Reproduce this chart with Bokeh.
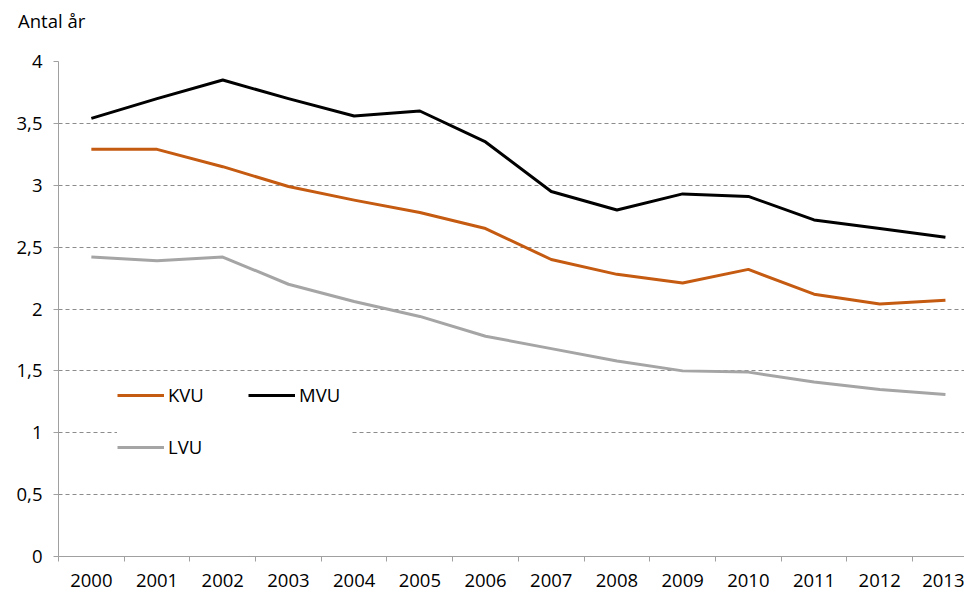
from bokeh.plotting import figure
from bokeh.models import FixedTicker, Legend, LegendItem, Range1d, Div
from bokeh.layouts import column
from bokeh.embed import file_html
from bokeh.resources import INLINE

years = [2000, 2001, 2002, 2003, 2004, 2005, 2006, 2007, 2008, 2009, 2010, 2011, 2012, 2013]
kvu = [3.29, 3.29, 3.15, 2.99, 2.88, 2.78, 2.65, 2.40, 2.28, 2.21, 2.32, 2.12, 2.04, 2.07]
mvu = [3.54, 3.70, 3.85, 3.70, 3.56, 3.60, 3.35, 2.95, 2.80, 2.93, 2.91, 2.72, 2.65, 2.58]
lvu = [2.42, 2.39, 2.42, 2.20, 2.06, 1.94, 1.78, 1.68, 1.58, 1.50, 1.49, 1.41, 1.35, 1.31]
y_ticks = [0, 0.5, 1, 1.5, 2, 2.5, 3, 3.5, 4]
y_tick_labels = ["0", "0,5", "1", "1,5", "2", "2,5", "3", "3,5", "4"]
unit_label = "Antal år"

FONT = "Open Sans"
FS = "18.5px"

header = Div(text=f'<div style="padding:8px 0 0 18px; font-family:\'Open Sans\'; '
                  f'font-size:{FS}; color:black; white-space:nowrap">{unit_label}</div>',
             width=964, height=40, margin=(0, 0, 0, 0))

p = figure(width=964, height=552, output_backend="svg", toolbar_location=None,
           x_range=Range1d(1999.5, 2013.29), y_range=Range1d(0, 4),
           min_border_left=58, min_border_right=0, min_border_top=21, min_border_bottom=36,
           margin=(0, 0, 0, 0))
p.outline_line_color = None
p.background_fill_color = "white"

# x axis
p.xaxis.ticker = FixedTicker(ticks=years, minor_ticks=[y - 0.5 for y in years] + [years[-1] + 0.5])
p.xaxis.major_label_overrides = {y: str(y) for y in years}
p.xaxis.major_tick_line_color = None
p.xaxis.major_tick_out = 0
p.xaxis.major_tick_in = 0
p.xaxis.minor_tick_line_color = "#a0a0a0"
p.xaxis.minor_tick_out = 5
p.xaxis.minor_tick_in = 0
p.xaxis.axis_line_color = "#a0a0a0"
p.xaxis.major_label_standoff = 12
p.xaxis.major_label_text_font = FONT
p.xaxis.major_label_text_font_size = FS
p.xaxis.major_label_text_color = "black"
p.xgrid.grid_line_color = None

# y axis
p.yaxis.ticker = FixedTicker(ticks=y_ticks)
p.yaxis.major_label_overrides = {t: l for t, l in zip(y_ticks, y_tick_labels)}
p.yaxis.minor_tick_line_color = None
p.yaxis.major_tick_line_color = "#a0a0a0"
p.yaxis.major_tick_out = 5
p.yaxis.major_tick_in = 0
p.yaxis.axis_line_color = "#a0a0a0"
p.yaxis.major_label_standoff = 11
p.yaxis.major_label_text_font = FONT
p.yaxis.major_label_text_font_size = FS
p.yaxis.major_label_text_color = "black"
p.ygrid.grid_line_color = "#8c8c8c"
p.ygrid.grid_line_dash = "4 3"
p.ygrid.grid_line_width = 1

r_mvu = p.line(years, mvu, line_color="black", line_width=3, line_join="round")
r_kvu = p.line(years, kvu, line_color="#c55a11", line_width=3, line_join="round")
r_lvu = p.line(years, lvu, line_color="#a5a5a5", line_width=3, line_join="round")

legend = Legend(items=[LegendItem(label="KVU", renderers=[r_kvu]),
                       LegendItem(label="MVU", renderers=[r_mvu]),
                       LegendItem(label="LVU", renderers=[r_lvu])],
                location=(59, 97), orientation="horizontal", ncols=2,
                glyph_width=47, glyph_height=20, label_height=20, label_width=53,
                label_standoff=4, spacing=27, padding=18, margin=0,
                border_line_color=None, background_fill_color="white", background_fill_alpha=1,
                label_text_font=FONT, label_text_font_size=FS, label_text_color="black")
p.add_layout(legend)

layout = column(header, p, spacing=0, margin=(0, 0, 0, 0))
open("out.html", "w").write(file_html(layout, INLINE))
